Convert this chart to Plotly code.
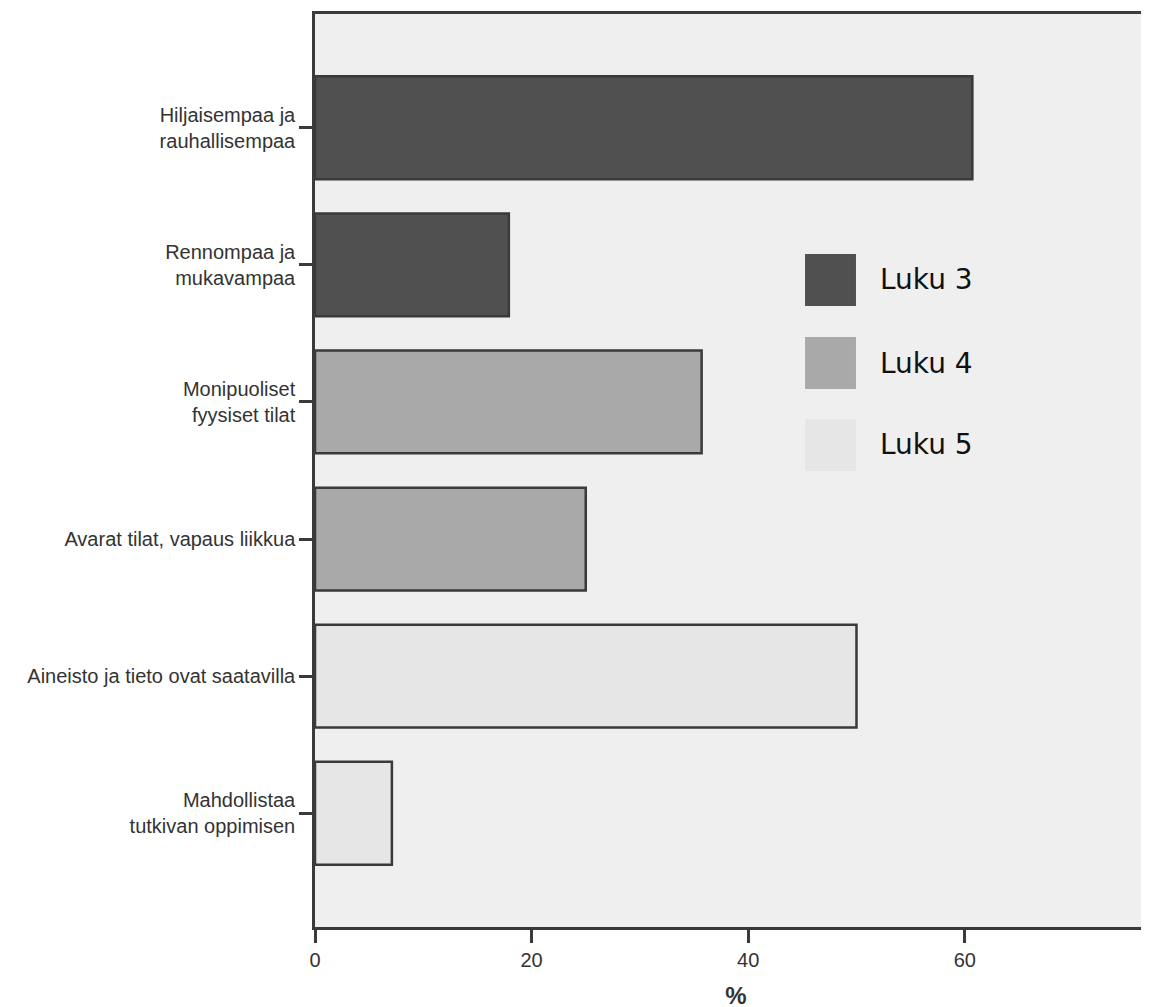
import plotly.graph_objects as go

categories = [
    "Hiljaisempaa ja<br>rauhallisempaa",
    "Rennompaa ja<br>mukavampaa",
    "Monipuoliset<br>fyysiset tilat",
    "Avarat tilat, vapaus liikkua",
    "Aineisto ja tieto ovat saatavilla",
    "Mahdollistaa<br>tutkivan oppimisen",
]
values = [60.7, 17.9, 35.7, 25.0, 50.0, 7.1]
groups = ["Luku 3", "Luku 3", "Luku 4", "Luku 4", "Luku 5", "Luku 5"]
group_names = ["Luku 3", "Luku 4", "Luku 5"]
group_colors = {"Luku 3": "#505050", "Luku 4": "#a9a9a9", "Luku 5": "#e6e6e6"}
x_ticks = [0, 20, 40, 60]

fig = go.Figure()
for g in group_names:
    ys = [c for c, gg in zip(categories, groups) if gg == g]
    xs = [v for v, gg in zip(values, groups) if gg == g]
    fig.add_trace(go.Bar(
        x=xs, y=ys, orientation="h", name=g,
        marker=dict(color=group_colors[g], line=dict(color="#3a3a3a", width=2.5)),
        showlegend=False,
    ))

# legend drawn as shapes + text
leg_y = [0.7087, 0.6177, 0.528]
for g, yc in zip(group_names, leg_y):
    fig.add_shape(type="rect", xref="paper", yref="paper",
                  x0=0.582, x1=0.6425, y0=yc - 0.0285, y1=yc + 0.0285,
                  fillcolor=group_colors[g], line=dict(width=0))
    fig.add_annotation(xref="paper", yref="paper", x=0.669, y=yc,
                       text=g, showarrow=False, xanchor="left", yanchor="middle",
                       font=dict(family="DejaVu Sans", size=28, color="#111111"))

fig.update_layout(
    width=1149, height=1007,
    margin=dict(l=307, r=0, t=6, b=88),
    paper_bgcolor="white", plot_bgcolor="#efefef",
    barmode="relative", bargap=0.25,
    font=dict(family="Liberation Sans", size=20, color="#333333"),
)
fig.update_xaxes(
    range=[0, 77.75], tickvals=x_ticks, ticktext=[str(t) for t in x_ticks],
    showgrid=False, zeroline=False,
    showline=True, linecolor="#3a3a3a", linewidth=2.5, mirror=True,
    ticks="outside", ticklen=13, tickwidth=3, tickcolor="#3a3a3a",
    tickfont=dict(family="Liberation Sans", size=20, color="#333333"),
    title=dict(text="<b>%</b>", font=dict(family="Liberation Sans", size=24, color="#333333"), standoff=18),
)
fig.update_yaxes(
    categoryorder="array", categoryarray=categories,
    range=[5.83, -0.83],
    showgrid=False, zeroline=False,
    showline=True, linecolor="#3a3a3a", linewidth=2.5,
    ticks="outside", ticklen=13, tickwidth=3, tickcolor="#3a3a3a",
    tickfont=dict(family="Liberation Sans", size=20, color="#333333"),
)

fig.write_html("out.html")
